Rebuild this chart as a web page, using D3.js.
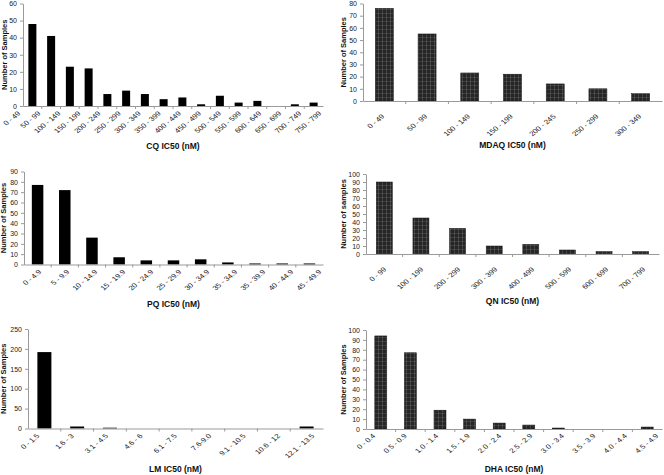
<!DOCTYPE html>
<html><head><meta charset="utf-8">
<script src="https://cdn.jsdelivr.net/npm/d3@7"></script>
<style>
body{margin:0;background:#fff;}
svg{display:block;font-family:"Liberation Sans",Arial,sans-serif;}
</style></head>
<body>
<script>
// ---- data ----
const cqCats = ["0 - 49","50 - 99","100 - 149","150 - 199","200 - 249","250 - 299","300 - 349","350 - 399","400 - 449","450 - 499","500 - 549","550 - 599","600 - 649","650 - 699","700 - 749","750 - 799"];
const cqVals = [48,41,23,22,7,9,7,4,5,1,6,2,3,0,1,2];
const cqTicks = [0,10,20,30,40,50,60];

const mdaqCats = ["0 - 49","50 - 99","100 - 149","150 - 199","200 - 245","250 - 299","300 - 349"];
const mdaqVals = [76,55,23,22,14,10,6];
const mdaqTicks = [0,10,20,30,40,50,60,70,80];

const pqCats = ["0 - 4.9","5 - 9.9","10 - 14.9","15 - 19.9","20 - 24.9","25 - 29.9","30 - 34.9","35 - 34.9","35 - 39.9","40 - 44.9","45 - 49.9"];
const pqVals = [77,72,26,7,4,4,5,2,1,1,1];
const pqTicks = [0,10,20,30,40,50,60,70,80,90];

const qnCats = ["0 - 99","100 - 199","200 - 299","300 - 399","400 - 499","500 - 599","600 - 699","700 - 799"];
const qnVals = [90,45,32,10,12,5,3,3];
const qnTicks = [0,10,20,30,40,50,60,70,80,90,100];

const lmCats = ["0 - 1.5","1.6 - 3","3.1 - 4.5","4.6 - 6","6.1 - 7.5","7.6-9.0","9.1 - 10.5","10.6 - 12","12.1 - 13.5"];
const lmVals = [192,5,2,0,0,0,0,0,5];
const lmTicks = [0,50,100,150,200,250];

const dhaCats = ["0 - 0.4","0.5 - 0.9","1.0 - 1.4","1.5 - 1.9","2.0 - 2.4","2.5 - 2.9","3.0 - 3.4","3.5 - 3.9","4.0 - 4.4","4.5 - 4.9"];
const dhaVals = [94,77,19,10,6,4,1,0,0,2];
const dhaTicks = [0,10,20,30,40,50,60,70,80,90,100];

const titles = ["CQ IC50 (nM)","MDAQ IC50 (nM)","PQ IC50 (nM)","QN IC50 (nM)","LM IC50 (nM)","DHA IC50 (nM)"];
const yTitles = ["Number of Samples","Number of Samples","Number of Samples","Number of samples","Number of Samples","Number of Samples"];

// ---- layout ----
const W = 664, H = 475;
const svg = d3.select("body").append("svg").attr("width", W).attr("height", H);

const defs = svg.append("defs");
const pat = defs.append("pattern").attr("id","tex").attr("patternUnits","userSpaceOnUse")
  .attr("width",4).attr("height",4);
pat.append("rect").attr("width",4).attr("height",4).attr("fill","#262626");
pat.append("rect").attr("x",0).attr("y",1).attr("width",4).attr("height",1).attr("fill","#3c3c3c");
pat.append("rect").attr("x",2).attr("y",0).attr("width",1).attr("height",4).attr("fill","#444");
pat.append("rect").attr("x",2).attr("y",1).attr("width",1).attr("height",1).attr("fill","#5a5a5a");

const panels = [
  {cats:cqCats, vals:cqVals, ticks:cqTicks, x0:23, x1:323, yT:3.5, yB:106, bw:8, fill:"#000", titleY:149, yTitleX:6.5, lA:21, lB:322, lGap:8},
  {cats:mdaqCats, vals:mdaqVals, ticks:mdaqTicks, x0:363, x1:662, yT:3.5, yB:101, bw:18, fill:"url(#tex)", titleY:148, yTitleX:346, lA:385, lB:642, lGap:16},
  {cats:pqCats, vals:pqVals, ticks:pqTicks, x0:24, x1:323, yT:171.5, yB:264.5, bw:11.5, fill:"#000", titleY:307, yTitleX:5.5, lA:42, lB:322, lGap:8},
  {cats:qnCats, vals:qnVals, ticks:qnTicks, x0:366, x1:659, yT:174, yB:254, bw:16, fill:"url(#tex)", titleY:304, yTitleX:346, lA:387, lB:646, lGap:16},
  {cats:lmCats, vals:lmVals, ticks:lmTicks, x0:28, x1:323, yT:329, yB:428.5, bw:14, fill:"#000", titleY:472, yTitleX:6, lA:40, lB:315, lGap:8},
  {cats:dhaCats, vals:dhaVals, ticks:dhaTicks, x0:366, x1:662, yT:330, yB:429, bw:12, fill:"url(#tex)", titleY:472, yTitleX:346, lA:376, lB:659, lGap:7.5}
];

const axisCol = "#9a9a9a";
const txtCol = "#222";

panels.forEach((p, i) => {
  const g = svg.append("g");
  const x = d3.scaleBand().domain(p.cats).range([p.x0, p.x1]);
  const xl = d3.scalePoint().domain(p.cats).range([p.lA, p.lB]);
  const ymax = p.ticks[p.ticks.length-1];
  const y = d3.scaleLinear().domain([0, ymax]).range([p.yB, p.yT]);

  // bars
  g.selectAll("rect.bar").data(p.cats.map((c,k)=>({c, v:p.vals[k]}))).enter()
    .append("rect").attr("class","bar")
    .attr("x", d => x(d.c) + x.bandwidth()/2 - p.bw/2)
    .attr("width", p.bw)
    .attr("y", d => y(d.v))
    .attr("height", d => y(0) - y(d.v))
    .attr("fill", p.fill)
    .attr("stroke", p.fill === "#000" ? "none" : "#111")
    .attr("stroke-width", 0.5);

  // y axis
  const ya = g.append("g").attr("transform", `translate(${p.x0},0)`)
    .call(d3.axisLeft(y).tickValues(p.ticks).tickSize(3).tickPadding(3).tickSizeOuter(0));
  ya.select(".domain").attr("stroke", axisCol);
  ya.selectAll(".tick line").attr("stroke", axisCol);
  ya.selectAll("text").attr("font-size", 7).attr("fill", txtCol);

  // x axis
  const xa = g.append("g").attr("transform", `translate(0,${p.yB})`)
    .call(d3.axisBottom(x).tickSize(0).tickSizeOuter(0).tickFormat(() => ""));
  xa.select(".domain").attr("stroke", axisCol);
  // boundary ticks
  g.selectAll("line.bt").data(p.cats.slice(1)).enter().append("line")
    .attr("x1", d => x(d)).attr("x2", d => x(d))
    .attr("y1", p.yB).attr("y2", p.yB + 3)
    .attr("stroke", axisCol);
  // category labels (rotated)
  g.selectAll("text.cl").data(p.cats).enter().append("text")
    .attr("class","cl")
    .attr("font-size", 8).attr("fill", txtCol)
    .attr("text-anchor", "end")
    .attr("transform", d => `translate(${xl(d)},${p.yB + p.lGap}) scale(1,0.82) rotate(-45)`)
    .text(d => d);

  // titles
  g.append("text").attr("x", (p.x0 + p.x1)/2).attr("y", p.titleY)
    .attr("text-anchor","middle").attr("font-size", 8.5).attr("font-weight","bold")
    .attr("fill", "#111").text(titles[i]);
  g.append("text")
    .attr("transform", `translate(${p.yTitleX},${(p.yT + p.yB)/2}) rotate(-90)`)
    .attr("text-anchor","middle").attr("font-size", 7.5).attr("font-weight","bold")
    .attr("fill", "#111").text(yTitles[i]);
});
</script>
</body></html>
